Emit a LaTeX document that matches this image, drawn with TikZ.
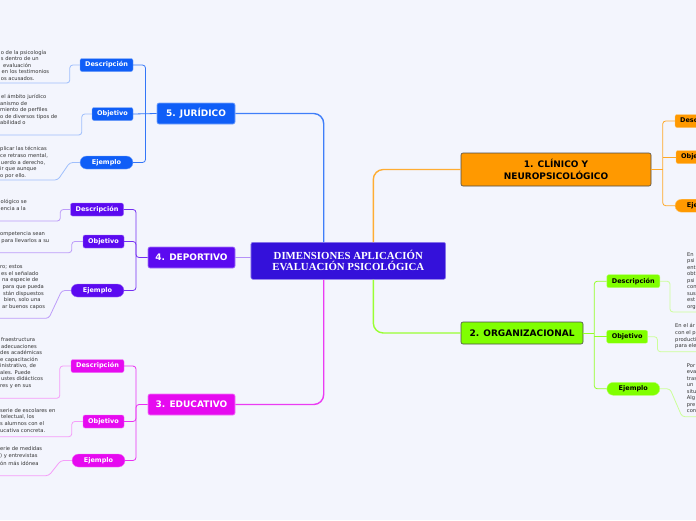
\documentclass[tikz,border=0pt]{standalone}
\usepackage{fontspec}
\setmainfont{DejaVu Sans}
\newfontfamily\titlefont{Liberation Serif}
\usetikzlibrary{positioning, calc}
\definecolor{mapbg}{HTML}{F3F5FD}
\definecolor{mapcore}{HTML}{3411DA}
\definecolor{mapjur}{HTML}{0F5EF7}
\definecolor{mapdep}{HTML}{5B0AF0}
\definecolor{mapedu}{HTML}{E60AF0}
\definecolor{mapcli}{HTML}{FF9900}
\definecolor{maporg}{HTML}{80FF00}
\definecolor{maptext}{HTML}{333333}

\begin{document}
\begin{tikzpicture}[x=1pt, y=-1pt,
  branch/.style={draw, rounded corners=2pt, inner sep=0pt, align=center, line width=0.6pt, font=\bfseries\fontsize{9}{11.7}\selectfont},
  leaf/.style={draw, rounded corners=2pt, inner sep=0pt, minimum height=13pt, line width=0.4pt, font=\bfseries\fontsize{6.5}{8}\selectfont},
  pill/.style={leaf, rounded corners=6.5pt},
  note/.style={anchor=north west, inner sep=0pt, align=left, text=maptext, font=\fontsize{5.2}{6.6}\selectfont},
  wire/.style={line width=1.4pt, rounded corners=10pt},
  twig/.style={line width=0.8pt, rounded corners=3pt}
]
\useasboundingbox (0,0) rectangle (696,520);
\clip (0,0) rectangle (696,520);
\fill[mapbg] (0,0) rectangle (696,520);

\node[branch, fill=mapcore, draw=mapcore!55!white, text=white, minimum width=194.7pt, minimum height=37pt, font=\titlefont\bfseries\fontsize{10.8}{10.8}\selectfont] (core) at (348.3,260.8) {DIMENSIONES APLICACIÓN\\EVALUACIÓN PSICOLÓGICA};

\node[branch, fill=mapjur, draw=mapjur!55!white, text=white, minimum width=78pt, minimum height=21pt] (jur) at (196,113.5) {5. JURÍDICO};
\node[branch, fill=mapdep, draw=mapdep!55!white, text=white, minimum width=87pt, minimum height=21pt] (dep) at (191.5,257.5) {4. DEPORTIVO};
\node[branch, fill=mapedu, draw=mapedu!55!white, text=white, minimum width=87pt, minimum height=21pt] (edu) at (191.5,404.5) {3. EDUCATIVO};
\node[branch, fill=mapcli, draw=black!70, minimum width=190pt, minimum height=33pt] (cli) at (556,169.5) {1. CLÍNICO Y\\NEUROPSICOLÓGICO};
\node[branch, fill=maporg, draw=black!70, minimum width=122pt, minimum height=22pt] (org) at (522,333) {2. ORGANIZACIONAL};

\node[leaf, fill=mapjur, draw=mapjur!55!white, text=white, minimum width=53pt] (jdesc) at (106.5,65) {Descripción};
\node[leaf, fill=mapjur, draw=mapjur!55!white, text=white, minimum width=41pt] (jobj) at (112.5,114) {Objetivo};
\node[pill, fill=mapjur, draw=mapjur!55!white, text=white, minimum width=53pt] (jej) at (106.5,162.5) {Ejemplo};

\node[leaf, fill=mapdep, draw=mapdep!55!white, text=white, minimum width=53pt] (ddesc) at (97,209.5) {Descripción};
\node[leaf, fill=mapdep, draw=mapdep!55!white, text=white, minimum width=41pt] (dobj) at (103.5,241.5) {Objetivo};
\node[pill, fill=mapdep, draw=mapdep!55!white, text=white, minimum width=53pt] (dej) at (97.5,290.5) {Ejemplo};

\node[leaf, fill=mapedu, draw=mapedu!55!white, text=white, minimum width=53pt] (edesc) at (97.5,366) {Descripción};
\node[leaf, fill=mapedu, draw=mapedu!55!white, text=white, minimum width=41pt] (eobj) at (103.5,421.5) {Objetivo};
\node[pill, fill=mapedu, draw=mapedu!55!white, text=white, minimum width=53pt] (eej) at (98.5,460.5) {Ejemplo};

\node[leaf, fill=mapcli, draw=mapcli!55!white, minimum width=53pt] (cdesc) at (701.5,121) {Descripción};
\node[leaf, fill=mapcli, draw=mapcli!55!white, minimum width=41pt] (cobj) at (696.5,157) {Objetivo};
\node[pill, fill=mapcli, draw=mapcli!55!white, minimum width=53pt] (cej) at (701.5,205.7) {Ejemplo};

\node[leaf, fill=maporg, draw=maporg!55!white, minimum width=53pt] (odesc) at (633.3,281.2) {Descripción};
\node[leaf, fill=maporg, draw=maporg!55!white, minimum width=41pt] (oobj) at (627.2,336.7) {Objetivo};
\node[pill, fill=maporg, draw=maporg!55!white, minimum width=53pt] (oej) at (633.3,388.8) {Ejemplo};

\draw[wire, draw=mapjur!80!white] (jur.east) -| ([xshift=-24.6pt]core.north);
\draw[wire, draw=mapdep!45!white, line width=1pt] (dep.east) -- (dep.east -| core.west);
\draw[wire, draw=mapedu!80!white] (edu.east) -| ([xshift=-24.6pt]core.south);
\draw[wire, draw=mapcli!80!white] (cli.west) -| ([xshift=25pt]core.north);
\draw[wire, draw=maporg!80!white] (org.west) -| ([xshift=25pt]core.south);

\coordinate (jbr) at (145.5,113.5);
\draw[twig, draw=mapjur!85!white] (jdesc.east) -| (jbr) |- (jej.east);
\draw[twig, draw=mapjur!85!white] (jobj.east) -- (jur.west);
\coordinate (dbr) at (136,257.5);
\draw[twig, draw=mapdep!85!white] (ddesc.east) -| (dbr) |- (dej.east);
\draw[twig, draw=mapdep!85!white] (dobj.east) -| (dbr) -- (dep.west);
\coordinate (ebr) at (136,404.5);
\draw[twig, draw=mapedu!85!white] (edesc.east) -| (ebr) |- (eej.east);
\draw[twig, draw=mapedu!85!white] (eobj.east) -| (ebr) -- (edu.west);
\coordinate (cbr) at (662.7,169.5);
\draw[twig, draw=mapcli!85!white] (cdesc.west) -| (cbr) |- (cej.west);
\draw[twig, draw=mapcli!85!white] (cli.east) -- (cbr);
\draw[twig, draw=mapcli!85!white] (cobj.west) -- (cobj.west -| cbr);
\coordinate (obr) at (594.3,333);
\draw[twig, draw=maporg!85!white] (odesc.west) -| (obr) |- (oej.west);
\draw[twig, draw=maporg!85!white] (org.east) -- (obr);
\draw[twig, draw=maporg!85!white] (oobj.west) -- (oobj.west -| obr);

\coordinate (jdend) at (-2,83);
\coordinate (joend) at (-2,135);
\coordinate (jeend) at (-2,180);
\draw[twig, draw=mapjur!40!white] (jdesc.west) -- ++(-10,0) |- (jdend);
\draw[twig, draw=mapjur!40!white] (jobj.west) -- ++(-10,0) |- (joend);
\draw[twig, draw=mapjur!40!white] (jej.west) -- ++(-10,0) -- ++(-12,17.5) -- (jeend);
\coordinate (ddend) at (-2,221);
\coordinate (doend) at (-2,252.7);
\coordinate (deend) at (-2,318.3);
\draw[twig, draw=mapdep!40!white] (ddesc.west) -- ++(-10,0) |- (ddend);
\draw[twig, draw=mapdep!40!white] (dobj.west) -- ++(-11,0) |- (doend);
\draw[twig, draw=mapdep!40!white] (dej.west) -- ++(-9,0) -- ++(-13,27.8) -- (deend);
\coordinate (edend) at (-2,398.3);
\coordinate (eoend) at (-2,436.7);
\coordinate (eeend) at (-2,475.7);
\draw[twig, draw=mapedu!40!white] (edesc.west) -- ++(-11,0) |- (edend);
\draw[twig, draw=mapedu!40!white] (eobj.west) -- ++(-11,0) |- (eoend);
\draw[twig, draw=mapedu!40!white] (eej.west) -- ++(-11,0) -- ++(-12,15.2) -- (eeend);
\coordinate (odend) at (698,312);
\coordinate (ooend) at (698,351.7);
\coordinate (oeend) at (698,416.7);
\draw[twig, draw=maporg!40!white] (odesc.east) -- ++(10,0) |- (odend);
\draw[twig, draw=maporg!40!white] (oobj.east) -- ++(9.5,0) |- (ooend);
\draw[twig, draw=maporg!40!white] (oej.east) -- ++(10,0) -- ++(12,27.9) -- (oeend);

\node[note] (jdnote) at (0.7,49.8) {o de la psicología\\ s dentro de un\\ \hspace*{2.2pt}evaluación\\ \hspace*{0.8pt}en los testimonios\\ os acusados.};
\node[note] (jonote) at (0,94.2) {\hspace*{0.9pt}el ámbito jurídico\\ anismo de\\ miento de perfiles\\ o de diversos tipos de\\ abilidad o};
\node[note] (jenote) at (0,146.5) {plicar las técnicas\\ ce retraso mental,\\ \hspace*{0.8pt}uerdo a derecho,\\ ir que aunque\\ o por ello.};
\node[note, font=\fontsize{5.2}{7}\selectfont] (ddnote) at (0.5,199.5) {ológico se\\ encia a la};
\node[note, font=\fontsize{5.2}{7}\selectfont] (donote) at (0,231.5) {ompetencia sean\\ \hspace*{1.3pt}para llevarlos a su};
\node[note] (denote) at (0,264.8) {ro; estos\\ \hspace*{0.9pt}es el señalado\\ \hspace*{2pt}na especie de\\ \hspace*{2.4pt}para que pueda\\ \hspace*{2.9pt}stán dispuestos\\ \hspace*{3.8pt}bien, solo una\\ \hspace*{2pt}ar buenos capos};
\node[note, font=\fontsize{5.2}{6.5}\selectfont] (ednote) at (0,337.5) {\hspace*{0.9pt}fraestructura\\ \hspace*{0.9pt}adecuaciones\\ des académicas\\ e capacitación\\ inistrativo, de\\ ales. Puede\\ \hspace*{0.9pt}ustes didácticos\\ res y en sus};
\node[note] (eonote) at (0,408.2) {serie de escolares en\\ \hspace*{0.9pt}telectual, los\\ s alumnos con el\\ ucativa concreta.};
\node[note, font=\fontsize{5.2}{7.2}\selectfont] (eenote) at (0,446.5) {erie de medidas\\ ) y entrevistas\\ ón más idónea};
\node[note, font=\fontsize{5.2}{6.5}\selectfont] (odnote) at (687,252.5) {En\\ psi\\ ent\\ obt\\ psi\\ con\\ sus\\ est\\ org};
\node[note, font=\fontsize{5.2}{6.7}\selectfont] (oonote) at (675,323.5) {En el ár\\ con el p\\ producti\\ para ele};
\node[note, font=\fontsize{5.2}{6.45}\selectfont] (oenote) at (686.7,363.5) {Por\\ eva\\ tras\\ un\\ situ\\ Alg\\ pre\\ con};
\end{tikzpicture}
\end{document}
